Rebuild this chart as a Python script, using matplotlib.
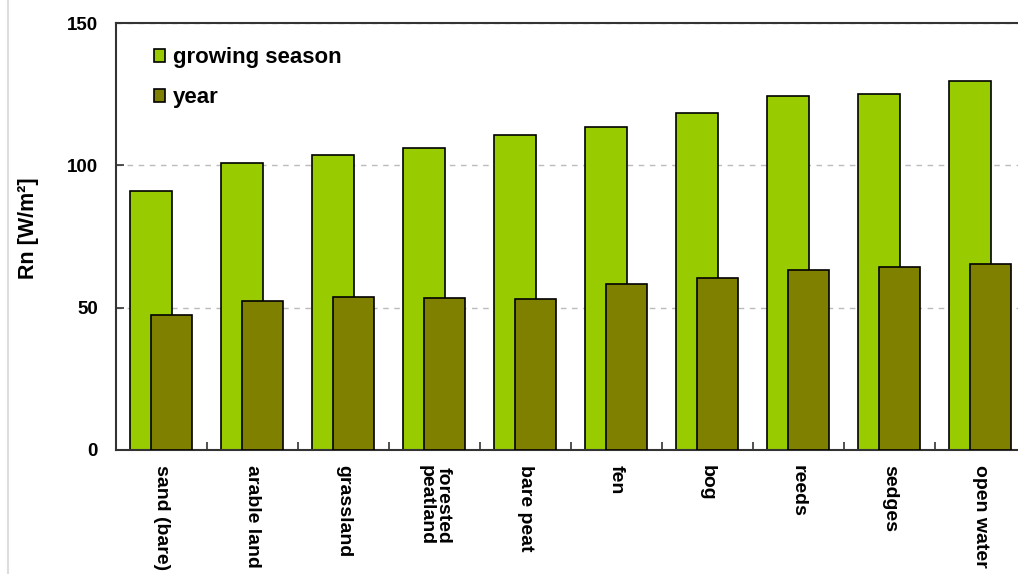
import matplotlib.pyplot as plt
import numpy as np
from matplotlib.patches import Patch

plt.rcParams['font.family'] = ['Liberation Sans', 'DejaVu Sans']
plt.rcParams['font.weight'] = 'bold'

categories = ['sand (bare)', 'arable land', 'grassland', 'forested\npeatland', 'bare peat',
              'fen', 'bog', 'reeds', 'sedges', 'open water']
growing_season = [91.0, 100.8, 103.6, 106.1, 110.6, 113.5, 118.4, 124.3, 125.1, 129.7]
year = [47.4, 52.3, 53.7, 53.4, 53.0, 58.3, 60.4, 63.2, 64.3, 65.3]

green = '#99CC00'
olive = '#808000'

fig = plt.figure(figsize=(10.18, 5.74), dpi=100)
ax = fig.add_axes([116 / 1018, 124 / 574, 910 / 1018, 427 / 574])

x = np.arange(len(categories))
ax.bar(x - 0.12, growing_season, width=0.46, color=green, edgecolor='black', linewidth=1.2, zorder=2)
ax.bar(x + 0.11, year, width=0.44, color=olive, edgecolor='black', linewidth=1.2, zorder=3)

ax.set_xlim(-0.5, len(categories) - 0.5)
ax.set_ylim(0, 150)
ax.set_yticks([0, 50, 100, 150])
ax.yaxis.grid(True, linestyle=(0, (4, 4)), color='#bbbbbb', linewidth=1, zorder=0)
ax.set_axisbelow(True)

# boundaries get the tick marks, labels sit in the middle
ax.set_xticks(np.arange(len(categories) + 1) - 0.5)
ax.set_xticklabels([])
ax.set_xticks(x, minor=True)
ax.set_xticklabels(categories, minor=True, rotation=270, ha='center', va='top',
                   fontsize=14, fontweight='bold', linespacing=1.0)
ax.tick_params(axis='x', which='major', direction='in', length=6, width=1.2, color='#333333')
ax.tick_params(axis='x', which='minor', length=0, pad=11)
ax.tick_params(axis='y', direction='in', length=6, width=1.2, color='#333333', pad=13, labelsize=13.5)
for lbl in ax.get_yticklabels():
    lbl.set_fontweight('bold')

for s in ['left', 'bottom', 'top', 'right']:
    ax.spines[s].set_linewidth(1.5)
    ax.spines[s].set_color('#333333')

ax.set_ylabel('Rn [W/m²]', fontsize=15.5, fontweight='bold')
ax.yaxis.set_label_coords(-0.0845, 0.52)

handles = [Patch(facecolor=green, edgecolor='black', linewidth=1.2),
           Patch(facecolor=olive, edgecolor='black', linewidth=1.2)]
ax.legend(handles, ['growing season', 'year'], loc='upper left', bbox_to_anchor=(0.02, 0.99),
          frameon=False, handlelength=0.5, handleheight=0.5, handletextpad=0.35,
          labelspacing=0.85, prop={'weight': 'bold', 'size': 16})

fig.add_artist(plt.Line2D([8 / 1018, 8 / 1018], [0, 1], color='#dddddd', linewidth=1.5))

fig.savefig('out.png', dpi=100)
